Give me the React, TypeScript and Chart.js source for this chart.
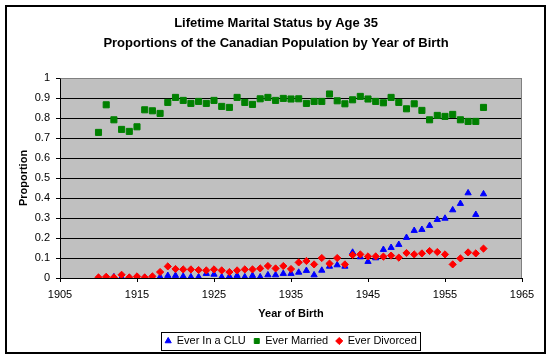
import React, { useEffect, useRef } from "react";
import { Chart, registerables } from "chart.js";

Chart.register(...registerables);

// ---- Data ----
const years = [
  1910, 1911, 1912, 1913, 1914, 1915, 1916, 1917, 1918, 1919,
  1920, 1921, 1922, 1923, 1924, 1925, 1926, 1927, 1928, 1929,
  1930, 1931, 1932, 1933, 1934, 1935, 1936, 1937, 1938, 1939,
  1940, 1941, 1942, 1943, 1944, 1945, 1946, 1947, 1948, 1949,
  1950, 1951, 1952, 1953, 1954, 1955, 1956, 1957, 1958, 1959, 1960,
];

const everInCLU = [
  0.0, 0.0, 0.005, 0.003, 0.002, 0.002, 0.002, 0.003, 0.005, 0.012,
  0.012, 0.008, 0.005, 0.005, 0.022, 0.018, 0.005, 0.008, 0.012, 0.005,
  0.012, 0.005, 0.015, 0.015, 0.022, 0.022, 0.028, 0.037, 0.015, 0.038,
  0.058, 0.065, 0.058, 0.128, 0.105, 0.082, 0.1, 0.142, 0.152, 0.167,
  0.202, 0.237, 0.242, 0.262, 0.292, 0.298, 0.34, 0.372, 0.425, 0.317, 0.42,
];

const everMarried = [
  0.728, 0.866, 0.791, 0.743, 0.733, 0.756, 0.841, 0.836, 0.823, 0.878,
  0.903, 0.888, 0.873, 0.883, 0.873, 0.888, 0.858, 0.853, 0.903, 0.878,
  0.868, 0.896, 0.903, 0.888, 0.898, 0.895, 0.896, 0.873, 0.883, 0.883,
  0.92, 0.886, 0.871, 0.891, 0.908, 0.895, 0.883, 0.876, 0.903, 0.878,
  0.846, 0.871, 0.838, 0.791, 0.813, 0.808, 0.818, 0.791, 0.783, 0.783, 0.853,
];

const everDivorced = [
  0.003, 0.006, 0.003, 0.016, 0.003, 0.008, 0.003, 0.008, 0.03, 0.058,
  0.045, 0.043, 0.043, 0.04, 0.038, 0.043, 0.038, 0.03, 0.038, 0.043,
  0.043, 0.048, 0.06, 0.048, 0.06, 0.045, 0.078, 0.085, 0.068, 0.1,
  0.072, 0.1, 0.068, 0.115, 0.118, 0.108, 0.108, 0.107, 0.112, 0.102,
  0.125, 0.118, 0.123, 0.135, 0.13, 0.118, 0.068, 0.098, 0.128, 0.123, 0.147,
];

const seriesLabels = ["Ever In a CLU", "Ever Married", "Ever Divorced"];
const titleLines = [
  "Lifetime Marital Status by Age 35",
  "Proportions of the Canadian Population by Year of Birth",
];
const xAxisTitle = "Year of Birth";
const yAxisTitle = "Proportion";
const xMin = 1905;
const xMax = 1965;
const xStep = 10;
const yMin = 0;
const yMax = 1;
const yStep = 0.1;

const FONT = "'Liberation Sans', Arial, Helvetica, sans-serif";

const toPoints = (vals: number[]) => years.map((y, i) => ({ x: y, y: vals[i] }));

const framePlugin = {
  id: "excelFrame",
  beforeDraw(chart: any) {
    const { ctx, chartArea: a, width, height } = chart;
    ctx.save();
    ctx.fillStyle = "#ffffff";
    ctx.fillRect(0, 0, width, height);
    ctx.fillStyle = "#c0c0c0";
    ctx.fillRect(a.left, a.top, a.right - a.left, a.bottom - a.top);
    ctx.strokeStyle = "#000000";
    ctx.lineWidth = 2;
    ctx.strokeRect(6, 6, 539, 347);
    ctx.restore();
  },
  beforeDatasetsDraw(chart: any) {
    const { ctx, chartArea: a } = chart;
    ctx.save();
    ctx.strokeStyle = "#808080";
    ctx.lineWidth = 1;
    ctx.beginPath();
    ctx.moveTo(Math.round(a.left) + 0.5, Math.round(a.top) + 0.5);
    ctx.lineTo(Math.round(a.right) - 0.5, Math.round(a.top) + 0.5);
    ctx.lineTo(Math.round(a.right) - 0.5, Math.round(a.bottom));
    ctx.stroke();
    ctx.restore();
  },
  afterDraw(chart: any) {
    const lg = chart.legend;
    if (!lg || !lg.legendHitBoxes || !lg.legendHitBoxes.length) return;
    const hb = lg.legendHitBoxes;
    let l = Infinity, r = -Infinity, t = Infinity, b = -Infinity;
    hb.forEach((h: any) => {
      l = Math.min(l, h.left);
      r = Math.max(r, h.left + h.width);
      t = Math.min(t, h.top);
      b = Math.max(b, h.top + h.height);
    });
    const { ctx } = chart;
    ctx.save();
    ctx.strokeStyle = "#000000";
    ctx.lineWidth = 1;
    ctx.strokeRect(Math.round(l - 4) + 0.5, Math.round(t - 4) + 0.5, Math.round(r - l + 7), Math.round(b - t + 7));
    ctx.restore();
  },
};

export default function App() {
  const canvasRef = useRef<HTMLCanvasElement | null>(null);

  useEffect(() => {
    if (!canvasRef.current) return;
    Chart.defaults.font.family = FONT;
    Chart.defaults.color = "#000000";

    const chart = new Chart(canvasRef.current, {
      type: "scatter",
      data: {
        datasets: [
          {
            label: seriesLabels[0],
            data: toPoints(everInCLU),
            pointStyle: "triangle",
            pointRadius: 3.6,
            backgroundColor: "#0000ff",
            borderColor: "#0000ff",
            borderWidth: 1,
            order: 2,
          },
          {
            label: seriesLabels[1],
            data: toPoints(everMarried),
            pointStyle: "rect",
            pointRadius: 4.3,
            backgroundColor: "#008000",
            borderColor: "#008000",
            borderWidth: 1,
            order: 1,
          },
          {
            label: seriesLabels[2],
            data: toPoints(everDivorced),
            pointStyle: "rectRot",
            pointRadius: 3.6,
            backgroundColor: "#ff0000",
            borderColor: "#ff0000",
            borderWidth: 1,
            order: 0,
          },
        ],
      },
      options: {
        responsive: false,
        animation: false,
        devicePixelRatio: 1,
        layout: { padding: { top: 0, left: 30, right: 28, bottom: 2.5 } },
        plugins: {
          title: {
            display: true,
            text: titleLines,
            color: "#000000",
            font: { family: FONT, size: 13, weight: "bold", lineHeight: 20 / 13 },
            padding: { top: 13, bottom: 25 },
          },
          legend: {
            display: true,
            position: "bottom",
            fullSize: false,
            labels: {
              usePointStyle: true,
              boxWidth: 6,
              boxHeight: 5,
              padding: 8,
              color: "#000000",
              font: { family: FONT, size: 11 },
              sort: (a: any, b: any) => a.datasetIndex - b.datasetIndex,
            },
          },
          tooltip: { enabled: false },
        },
        scales: {
          x: {
            type: "linear",
            min: xMin,
            max: xMax,
            afterFit: (s: any) => {
              s.height = 49.5;
            },
            ticks: {
              stepSize: xStep,
              padding: 6,
              color: "#000000",
              font: { family: FONT, size: 11 },
              callback: (v: any) => String(v),
              maxRotation: 0,
            },
            grid: {
              drawOnChartArea: false,
              drawTicks: true,
              tickLength: 4,
              tickColor: "#000000",
            },
            border: { color: "#000000", width: 1 },
            title: {
              display: true,
              text: xAxisTitle,
              color: "#000000",
              font: { family: FONT, size: 11, weight: "bold" },
              padding: { top: 0, bottom: 6.5 },
            },
          },
          y: {
            type: "linear",
            min: yMin,
            max: yMax,
            afterFit: (s: any) => {
              s.width = 30;
            },
            ticks: {
              stepSize: yStep,
              padding: 6,
              color: "#000000",
              font: { family: FONT, size: 11 },
              callback: (v: any) => String(Math.round(Number(v) * 10) / 10),
            },
            grid: {
              color: (c: any) => (c.tick && Math.abs(c.tick.value - 1) < 1e-9 ? "#808080" : "#000000"),
              lineWidth: 1,
              drawTicks: true,
              tickLength: 4,
              tickColor: "#000000",
            },
            border: { color: "#000000", width: 1 },
            title: {
              display: true,
              text: yAxisTitle,
              color: "#000000",
              font: { family: FONT, size: 11, weight: "bold" },
              padding: { top: -12.6, bottom: 0 },
            },
          },
        },
      },
      plugins: [framePlugin],
    } as any);

    return () => chart.destroy();
  }, []);

  return (
    <div style={{ position: "fixed", left: 0, top: 0, width: 550, height: 359, background: "#ffffff" }}>
      <canvas ref={canvasRef} width={550} height={359} style={{ display: "block", width: 550, height: 359 }} />
    </div>
  );
}
